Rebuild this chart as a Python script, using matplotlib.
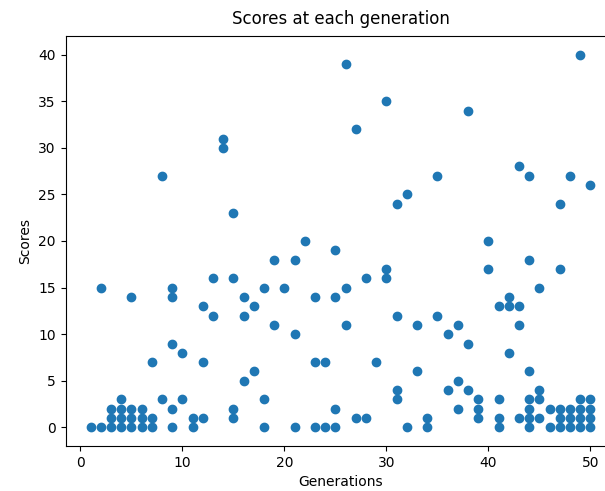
import matplotlib
matplotlib.use('Agg')
import matplotlib.pyplot as plt

# generation number of each individual, and its score
generations = [1,
               2, 2,
               3, 3, 3,
               4, 4, 4, 4,
               5, 5, 5, 5,
               6, 6, 6,
               7, 7, 7,
               8, 8,
               9, 9, 9, 9, 9,
               10, 10,
               11, 11,
               12, 12, 12,
               13, 13,
               14, 14,
               15, 15, 15, 15,
               16, 16, 16,
               17, 17,
               18, 18, 18,
               19, 19,
               20,
               21, 21, 21,
               22,
               23, 23, 23,
               24, 24,
               25, 25, 25, 25,
               26, 26, 26,
               27, 27,
               28, 28,
               29,
               30, 30, 30,
               31, 31, 31, 31,
               32, 32,
               33, 33,
               34, 34,
               35, 35,
               36, 36,
               37, 37, 37,
               38, 38, 38,
               39, 39, 39,
               40, 40,
               41, 41, 41, 41,
               42, 42, 42,
               43, 43, 43, 43,
               44, 44, 44, 44, 44, 44, 44,
               45, 45, 45, 45,
               46, 46,
               47, 47, 47, 47, 47,
               48, 48, 48, 48,
               49, 49, 49, 49, 49,
               50, 50, 50, 50, 50]
scores = [0,
          0, 15,
          0, 1, 2,
          0, 1, 2, 3,
          0, 1, 2, 14,
          0, 1, 2,
          0, 1, 7,
          3, 27,
          0, 2, 9, 14, 15,
          3, 8,
          0, 1,
          1, 7, 13,
          12, 16,
          30, 31,
          1, 2, 16, 23,
          5, 12, 14,
          6, 13,
          0, 3, 15,
          11, 18,
          15,
          0, 10, 18,
          20,
          0, 7, 14,
          0, 7,
          0, 2, 14, 19,
          11, 15, 39,
          1, 32,
          1, 16,
          7,
          16, 17, 35,
          3, 4, 12, 24,
          0, 25,
          6, 11,
          0, 1,
          12, 27,
          4, 10,
          2, 5, 11,
          4, 9, 34,
          1, 2, 3,
          17, 20,
          0, 1, 3, 13,
          8, 13, 14,
          1, 11, 13, 28,
          0, 1, 2, 3, 6, 18, 27,
          1, 3, 4, 15,
          0, 2,
          0, 1, 2, 17, 24,
          0, 1, 2, 27,
          0, 1, 2, 3, 40,
          0, 1, 2, 3, 26]

fig = plt.figure(figsize=(6.05, 4.91), dpi=100)
# the right side of the axes runs past the picture edge, as in the original crop
ax = fig.add_axes([65.5/605, (491-446)/491, 550/605, 410/491])
ax.spines['right'].set_visible(False)

ax.scatter(generations, scores)
ax.set_title('Scores at each generation', pad=9)
ax.set_xlabel('Generations')
ax.set_ylabel('Scores')

plt.savefig('out.png', dpi=100)
